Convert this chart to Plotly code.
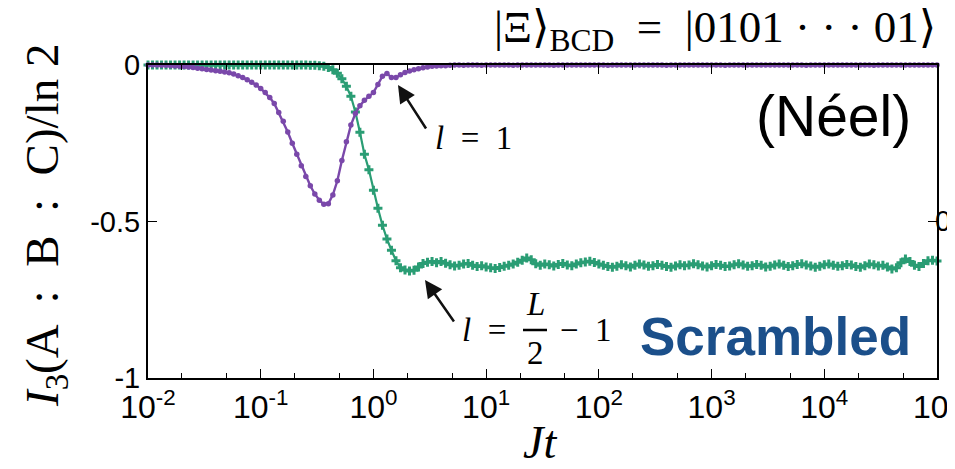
import numpy as np
import plotly.graph_objects as go

# time grid: 25 samples per decade from 1e-2 to 1e5
t = np.logspace(-2, 5, 176)

# l = 1 (purple)
i3_l1 = [
    0.000, 0.000, 0.000, -0.001, -0.001, -0.002, -0.003, -0.004, -0.005, -0.006,
    -0.008, -0.010, -0.012, -0.014, -0.016, -0.018, -0.020, -0.022, -0.025, -0.029,
    -0.034, -0.040, -0.047, -0.055, -0.064, -0.075, -0.088, -0.104, -0.123, -0.152,
    -0.180, -0.214, -0.250, -0.285, -0.322, -0.356, -0.386, -0.412, -0.432, -0.445,
    -0.443, -0.415, -0.370, -0.305, -0.245, -0.192, -0.155, -0.130, -0.113, -0.100,
    -0.088, -0.062, -0.036, -0.027, -0.040, -0.040, -0.031, -0.024, -0.019, -0.015,
    -0.012, -0.009, -0.006, -0.004, -0.003, -0.002, -0.002, -0.001,
    0.000, 0.000, -0.001, 0.000, 0.000, 0.000, -0.001, 0.000, 0.000, 0.000,
    0.000, 0.000, 0.000, -0.001, 0.000, 0.000, 0.000, 0.000, 0.000, 0.000,
    0.000, 0.000, -0.001, 0.000, 0.000, 0.000, 0.000, 0.000, 0.000, 0.000,
    0.000, 0.000, 0.000, 0.000, -0.001, 0.000, 0.000, 0.000, 0.000, 0.000,
    0.000, 0.000, 0.000, 0.000, 0.000, 0.000, 0.000, -0.001, 0.000, 0.000,
    0.000, 0.000, 0.000, 0.000, 0.000, 0.000, 0.000, 0.000, 0.000, 0.000,
    -0.001, 0.000, 0.000, 0.000, 0.000, 0.000, 0.000, 0.000, 0.000, 0.000,
    0.000, 0.000, 0.000, 0.000, 0.000, 0.000, 0.000, 0.000, -0.001, 0.000,
    0.000, 0.000, 0.000, 0.000, 0.000, 0.000, 0.000, 0.000, 0.000, 0.000,
    0.000, 0.000, 0.000, -0.001, 0.000, 0.000, 0.000, 0.000, 0.000, 0.000,
    0.000, 0.000, 0.000, 0.000, 0.000, 0.000, 0.000, 0.000,
]

# l = L/2 - 1 (green)
i3_lhalf = [
    0.000, 0.000, 0.000, 0.000, 0.000, 0.000, 0.000, 0.000, 0.000, 0.000,
    0.000, 0.000, 0.000, 0.000, 0.000, 0.000, 0.000, 0.000, 0.000, 0.000,
    0.000, 0.000, 0.000, 0.000, 0.000, 0.000, 0.000, 0.000, 0.000, 0.000,
    0.000, 0.000, 0.000, 0.000, 0.000, 0.000, -0.001, -0.001, -0.002, -0.004,
    -0.008, -0.015, -0.026, -0.044, -0.068, -0.100, -0.150, -0.215, -0.285, -0.335,
    -0.400, -0.458, -0.512, -0.556, -0.592, -0.625, -0.648, -0.655, -0.658, -0.656,
    -0.645, -0.634, -0.630, -0.628, -0.632, -0.628,
    -0.633, -0.638, -0.642, -0.640, -0.636, -0.634, -0.640, -0.644, -0.641, -0.645,
    -0.648, -0.650, -0.647, -0.643, -0.640, -0.636, -0.630, -0.624, -0.617, -0.622,
    -0.635, -0.640, -0.636, -0.638, -0.642, -0.637, -0.634, -0.639, -0.641, -0.636,
    -0.632, -0.629, -0.627, -0.631, -0.636, -0.640, -0.644, -0.646, -0.643, -0.638,
    -0.641, -0.645, -0.640, -0.636, -0.639, -0.643, -0.641, -0.637, -0.640, -0.644,
    -0.646, -0.642, -0.638, -0.641, -0.639, -0.635, -0.638, -0.642, -0.645, -0.641,
    -0.637, -0.640, -0.644, -0.642, -0.638, -0.635, -0.639, -0.643, -0.641, -0.637,
    -0.640, -0.645, -0.643, -0.639, -0.636, -0.640, -0.644, -0.641, -0.637, -0.635,
    -0.639, -0.642, -0.646, -0.643, -0.638, -0.636, -0.640, -0.643, -0.641, -0.637,
    -0.639, -0.644, -0.646, -0.641, -0.636, -0.638, -0.642, -0.640, -0.645, -0.652,
    -0.648, -0.632, -0.620, -0.628, -0.640, -0.644, -0.634, -0.625, -0.624, -0.626,
]

x_tickvals = [1e-2, 1e-1, 1e0, 1e1, 1e2, 1e3, 1e4, 1e5]
x_ticktext = ["10<sup>-2</sup>", "10<sup>-1</sup>", "10<sup>0</sup>", "10<sup>1</sup>",
              "10<sup>2</sup>", "10<sup>3</sup>", "10<sup>4</sup>", "10<sup>5</sup>"]
x_minorvals = [m * 10.0 ** e for e in range(-2, 5) for m in (2, 5)]
y_tickvals = [-1, -0.5, 0]
y_ticktext = ["-1", "-0.5", "0"]

GREEN = "#2a9d74"
PURPLE = "#7a48aa"
BLUE = "#1b4f8a"

# page has an 8px body margin; plot area in page pixels: x 148..937, y 65..378
OFF = 8
W, H = 947, 461
PX0, PX1, PY0, PY1 = 148, 937, 65, 378
L, T = PX0 - OFF, PY0 - OFF
R, B = W - (PX1 - OFF), H - (PY1 - OFF)


def px(x, y):
    return (x - PX0) / (PX1 - PX0), (PY1 - y) / (PY1 - PY0)


fig = go.Figure()
fig.add_trace(go.Scatter(
    x=t, y=i3_lhalf, mode="lines+markers", cliponaxis=False,
    line=dict(color=GREEN, width=2.2),
    marker=dict(symbol="cross", size=7.5, color=GREEN),
    showlegend=False))
fig.add_trace(go.Scatter(
    x=t, y=i3_l1, mode="lines+markers", cliponaxis=False,
    line=dict(color=PURPLE, width=2.4),
    marker=dict(symbol="circle", size=5.5, color=PURPLE),
    showlegend=False))

serif = "Liberation Serif, DejaVu Serif, serif"
sans = "Liberation Sans, Arial, sans-serif"

ann = []


def text(x, y, s, size, family=serif, color="black", xanchor="center", angle=0):
    xp, yp = px(x, y)
    ann.append(dict(xref="paper", yref="paper", x=xp, y=yp, text=s, showarrow=False,
                    xanchor=xanchor, yanchor="middle", textangle=angle,
                    font=dict(family=family, size=size, color=color)))


# axis titles
text(45, 226, "<i>I</i><sub>3</sub>(A  :  B  :  C)/ln 2", 47, angle=-90)
text(540, 442, "<i>Jt</i>", 46)
# top state label
text(938, 30, "|Ξ⟩<sub>BCD</sub>  =  |0101 · · · 01⟩", 45, xanchor="right")
# panel labels
text(833, 116, "(Néel)", 57, family=sans)
text(775, 336, "<b>Scrambled</b>", 53, family=sans, color=BLUE)
# partial tick label of neighbouring panel
text(933, 221, "0", 29, family=sans, xanchor="left")

# arrows
for hx, hy, tx, ty in [(398, 85, 427, 130), (425, 280, 455, 323)]:
    xp, yp = px(hx, hy)
    ann.append(dict(xref="paper", yref="paper", x=xp, y=yp, text="", showarrow=True,
                    ax=tx - hx, ay=ty - hy, arrowhead=2, arrowsize=1.4, arrowwidth=2.5,
                    arrowcolor="#111111", standoff=0))

# l = 1
text(433, 138, "<i>l</i>  =  1", 33, xanchor="left")
# l = L/2 - 1
text(460, 330, "<i>l</i>  =", 33, xanchor="left")
text(535, 304, "<i>L</i>", 33)
text(535, 353, "2", 33)
text(558, 330, "−  1", 33, xanchor="left")

x0, yb = px(523, 330)
x1, _ = px(547, 330)

fig.update_layout(
    width=W, height=H,
    margin=dict(l=L, r=R, t=T, b=B, autoexpand=False),
    paper_bgcolor="white", plot_bgcolor="white",
    annotations=ann,
    shapes=[dict(type="line", xref="paper", yref="paper", x0=x0, x1=x1, y0=yb, y1=yb,
                 line=dict(color="black", width=2.5))],
    xaxis=dict(type="log", range=[-2, 5], tickmode="array", tickvals=x_tickvals,
               ticktext=x_ticktext, ticks="inside", ticklen=9, tickwidth=1.3,
               tickcolor="black", showline=True, linewidth=2, linecolor="black",
               mirror="allticks", showgrid=False, zeroline=False, automargin=False,
               ticklabeloverflow="allow",
               tickfont=dict(family=sans, size=32, color="black")),
    yaxis=dict(range=[-1, 0], tickmode="array", tickvals=y_tickvals, ticktext=y_ticktext,
               ticks="inside", ticklen=9, tickwidth=1.3, tickcolor="black",
               showline=True, linewidth=2, linecolor="black", mirror="allticks",
               showgrid=False, zeroline=False, automargin=False,
               tickfont=dict(family=sans, size=29, color="black")),
)
fig.update_xaxes(minor=dict(tickmode="array", tickvals=x_minorvals, ticks="inside",
                            ticklen=5, tickwidth=1.1, tickcolor="black", showgrid=False))

fig.write_html("out.html")
